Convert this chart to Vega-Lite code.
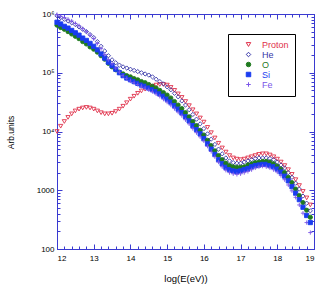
{
  "$schema": "https://vega.github.io/schema/vega-lite/v6.json",
  "width": 257,
  "height": 235,
  "autosize": {"type": "none"},
  "padding": {"left": 57, "top": 14, "right": 13, "bottom": 37},
  "background": "white",
  "config": {
    "view": {"stroke": "#3a3ad0", "strokeWidth": 1},
    "font": "Liberation Sans",
    "axis": {"grid": false, "domainColor": "#3a3ad0", "tickColor": "#3a3ad0", "labelColor": "black", "labelFontSize": 8, "titleFontWeight": "normal", "titleColor": "black", "labelFont": "Liberation Sans", "titleFont": "Liberation Sans"},
    "legend": {"symbolSize": 20, "symbolStrokeWidth": 1, "labelFontSize": 9, "labelFont": "Liberation Sans", "rowPadding": -3, "padding": 6, "strokeColor": "black", "fillColor": "white", "symbolOffset": 10, "labelOffset": 9}
  },
  "datasets": {
    "spectra": [
      {"log_E": 12.0, "Proton": 4.00, "He": 5.97, "O": 5.81, "Si": 5.86, "Fe": 5.99},
      {"log_E": 12.1, "Proton": 4.09, "He": 5.94, "O": 5.77, "Si": 5.83, "Fe": 5.96},
      {"log_E": 12.2, "Proton": 4.17, "He": 5.91, "O": 5.74, "Si": 5.79, "Fe": 5.94},
      {"log_E": 12.3, "Proton": 4.24, "He": 5.88, "O": 5.70, "Si": 5.76, "Fe": 5.91},
      {"log_E": 12.4, "Proton": 4.30, "He": 5.85, "O": 5.66, "Si": 5.72, "Fe": 5.88},
      {"log_E": 12.5, "Proton": 4.35, "He": 5.82, "O": 5.62, "Si": 5.68, "Fe": 5.84},
      {"log_E": 12.6, "Proton": 4.38, "He": 5.78, "O": 5.58, "Si": 5.64, "Fe": 5.80},
      {"log_E": 12.7, "Proton": 4.40, "He": 5.74, "O": 5.53, "Si": 5.59, "Fe": 5.75},
      {"log_E": 12.8, "Proton": 4.41, "He": 5.70, "O": 5.49, "Si": 5.55, "Fe": 5.70},
      {"log_E": 12.9, "Proton": 4.40, "He": 5.65, "O": 5.44, "Si": 5.50, "Fe": 5.64},
      {"log_E": 13.0, "Proton": 4.38, "He": 5.60, "O": 5.40, "Si": 5.45, "Fe": 5.58},
      {"log_E": 13.1, "Proton": 4.35, "He": 5.53, "O": 5.35, "Si": 5.39, "Fe": 5.50},
      {"log_E": 13.2, "Proton": 4.32, "He": 5.45, "O": 5.29, "Si": 5.32, "Fe": 5.41},
      {"log_E": 13.3, "Proton": 4.30, "He": 5.37, "O": 5.23, "Si": 5.25, "Fe": 5.31},
      {"log_E": 13.4, "Proton": 4.30, "He": 5.29, "O": 5.16, "Si": 5.18, "Fe": 5.22},
      {"log_E": 13.5, "Proton": 4.31, "He": 5.22, "O": 5.10, "Si": 5.12, "Fe": 5.15},
      {"log_E": 13.6, "Proton": 4.34, "He": 5.17, "O": 5.05, "Si": 5.06, "Fe": 5.08},
      {"log_E": 13.7, "Proton": 4.38, "He": 5.13, "O": 5.01, "Si": 5.00, "Fe": 5.01},
      {"log_E": 13.8, "Proton": 4.43, "He": 5.10, "O": 4.98, "Si": 4.95, "Fe": 4.95},
      {"log_E": 13.9, "Proton": 4.49, "He": 5.08, "O": 4.95, "Si": 4.91, "Fe": 4.90},
      {"log_E": 14.0, "Proton": 4.55, "He": 5.06, "O": 4.93, "Si": 4.88, "Fe": 4.86},
      {"log_E": 14.1, "Proton": 4.60, "He": 5.04, "O": 4.90, "Si": 4.85, "Fe": 4.83},
      {"log_E": 14.2, "Proton": 4.65, "He": 5.02, "O": 4.88, "Si": 4.82, "Fe": 4.80},
      {"log_E": 14.3, "Proton": 4.69, "He": 5.00, "O": 4.85, "Si": 4.79, "Fe": 4.77},
      {"log_E": 14.4, "Proton": 4.72, "He": 4.98, "O": 4.83, "Si": 4.77, "Fe": 4.74},
      {"log_E": 14.5, "Proton": 4.75, "He": 4.96, "O": 4.80, "Si": 4.74, "Fe": 4.71},
      {"log_E": 14.6, "Proton": 4.77, "He": 4.93, "O": 4.77, "Si": 4.71, "Fe": 4.68},
      {"log_E": 14.7, "Proton": 4.79, "He": 4.89, "O": 4.74, "Si": 4.68, "Fe": 4.64},
      {"log_E": 14.8, "Proton": 4.80, "He": 4.85, "O": 4.70, "Si": 4.64, "Fe": 4.60},
      {"log_E": 14.9, "Proton": 4.80, "He": 4.81, "O": 4.66, "Si": 4.60, "Fe": 4.55},
      {"log_E": 15.0, "Proton": 4.79, "He": 4.76, "O": 4.62, "Si": 4.55, "Fe": 4.50},
      {"log_E": 15.1, "Proton": 4.75, "He": 4.71, "O": 4.57, "Si": 4.50, "Fe": 4.45},
      {"log_E": 15.2, "Proton": 4.70, "He": 4.65, "O": 4.51, "Si": 4.44, "Fe": 4.39},
      {"log_E": 15.3, "Proton": 4.64, "He": 4.59, "O": 4.45, "Si": 4.38, "Fe": 4.33},
      {"log_E": 15.4, "Proton": 4.58, "He": 4.52, "O": 4.39, "Si": 4.32, "Fe": 4.27},
      {"log_E": 15.5, "Proton": 4.51, "He": 4.45, "O": 4.32, "Si": 4.25, "Fe": 4.20},
      {"log_E": 15.6, "Proton": 4.44, "He": 4.37, "O": 4.25, "Si": 4.18, "Fe": 4.13},
      {"log_E": 15.7, "Proton": 4.37, "He": 4.29, "O": 4.17, "Si": 4.10, "Fe": 4.05},
      {"log_E": 15.8, "Proton": 4.30, "He": 4.21, "O": 4.10, "Si": 4.03, "Fe": 3.98},
      {"log_E": 15.9, "Proton": 4.23, "He": 4.13, "O": 4.02, "Si": 3.96, "Fe": 3.91},
      {"log_E": 16.0, "Proton": 4.16, "He": 4.05, "O": 3.94, "Si": 3.88, "Fe": 3.84},
      {"log_E": 16.1, "Proton": 4.07, "He": 3.96, "O": 3.85, "Si": 3.79, "Fe": 3.75},
      {"log_E": 16.2, "Proton": 3.98, "He": 3.87, "O": 3.76, "Si": 3.70, "Fe": 3.66},
      {"log_E": 16.3, "Proton": 3.89, "He": 3.78, "O": 3.67, "Si": 3.61, "Fe": 3.57},
      {"log_E": 16.4, "Proton": 3.80, "He": 3.70, "O": 3.59, "Si": 3.52, "Fe": 3.48},
      {"log_E": 16.5, "Proton": 3.72, "He": 3.62, "O": 3.52, "Si": 3.45, "Fe": 3.40},
      {"log_E": 16.6, "Proton": 3.65, "He": 3.55, "O": 3.46, "Si": 3.39, "Fe": 3.34},
      {"log_E": 16.7, "Proton": 3.59, "He": 3.50, "O": 3.42, "Si": 3.35, "Fe": 3.30},
      {"log_E": 16.8, "Proton": 3.55, "He": 3.47, "O": 3.40, "Si": 3.33, "Fe": 3.28},
      {"log_E": 16.9, "Proton": 3.53, "He": 3.46, "O": 3.39, "Si": 3.32, "Fe": 3.27},
      {"log_E": 17.0, "Proton": 3.52, "He": 3.46, "O": 3.39, "Si": 3.33, "Fe": 3.28},
      {"log_E": 17.1, "Proton": 3.53, "He": 3.48, "O": 3.40, "Si": 3.35, "Fe": 3.30},
      {"log_E": 17.2, "Proton": 3.55, "He": 3.50, "O": 3.43, "Si": 3.37, "Fe": 3.32},
      {"log_E": 17.3, "Proton": 3.57, "He": 3.52, "O": 3.45, "Si": 3.40, "Fe": 3.35},
      {"log_E": 17.4, "Proton": 3.59, "He": 3.54, "O": 3.47, "Si": 3.42, "Fe": 3.38},
      {"log_E": 17.5, "Proton": 3.61, "He": 3.55, "O": 3.48, "Si": 3.43, "Fe": 3.40},
      {"log_E": 17.6, "Proton": 3.62, "He": 3.55, "O": 3.49, "Si": 3.44, "Fe": 3.41},
      {"log_E": 17.7, "Proton": 3.62, "He": 3.55, "O": 3.49, "Si": 3.44, "Fe": 3.40},
      {"log_E": 17.8, "Proton": 3.60, "He": 3.54, "O": 3.48, "Si": 3.42, "Fe": 3.38},
      {"log_E": 17.9, "Proton": 3.57, "He": 3.52, "O": 3.45, "Si": 3.40, "Fe": 3.35},
      {"log_E": 18.0, "Proton": 3.53, "He": 3.48, "O": 3.41, "Si": 3.36, "Fe": 3.31},
      {"log_E": 18.1, "Proton": 3.48, "He": 3.43, "O": 3.36, "Si": 3.31, "Fe": 3.25},
      {"log_E": 18.2, "Proton": 3.42, "He": 3.38, "O": 3.30, "Si": 3.24, "Fe": 3.18},
      {"log_E": 18.3, "Proton": 3.35, "He": 3.30, "O": 3.22, "Si": 3.16, "Fe": 3.09},
      {"log_E": 18.4, "Proton": 3.27, "He": 3.22, "O": 3.13, "Si": 3.06, "Fe": 2.99},
      {"log_E": 18.5, "Proton": 3.18, "He": 3.12, "O": 3.02, "Si": 2.95, "Fe": 2.88},
      {"log_E": 18.6, "Proton": 3.08, "He": 3.02, "O": 2.91, "Si": 2.84, "Fe": 2.75},
      {"log_E": 18.7, "Proton": 2.98, "He": 2.90, "O": 2.79, "Si": 2.71, "Fe": 2.61},
      {"log_E": 18.8, "Proton": 2.87, "He": 2.78, "O": 2.66, "Si": 2.57, "Fe": 2.45},
      {"log_E": 18.9, "Proton": 2.75, "He": 2.65, "O": 2.54, "Si": 2.45, "Fe": 2.28}
    ]
  },
  "data": {"name": "spectra"},
  "transform": [{"fold": ["Proton", "He", "O", "Si", "Fe"], "as": ["species", "log_I"]}],
  "layer": [
    {
      "mark": {"type": "point", "opacity": 0},
      "encoding": {
        "x": {"field": "log_E", "type": "quantitative", "scale": {"domain": [12, 19], "nice": false, "zero": false},
          "axis": {"orient": "top", "labels": false, "title": null, "values": [12,12.2,12.4,12.6,12.8,13,13.2,13.4,13.6,13.8,14,14.2,14.4,14.6,14.8,15,15.2,15.4,15.6,15.8,16,16.2,16.4,16.6,16.8,17,17.2,17.4,17.6,17.8,18,18.2,18.4,18.6,18.8,19],
            "tickSize": {"condition": {"test": "abs(datum.value - round(datum.value)) < 0.01", "value": -5}, "value": -3}}},
        "y": {"field": "log_I", "type": "quantitative", "scale": {"domain": [2, 6], "nice": false, "zero": false},
          "axis": {"orient": "right", "labels": false, "title": null, "values": [2,2.301,2.477,2.602,2.699,2.778,2.845,2.903,2.954,3,3.301,3.477,3.602,3.699,3.778,3.845,3.903,3.954,4,4.301,4.477,4.602,4.699,4.778,4.845,4.903,4.954,5,5.301,5.477,5.602,5.699,5.778,5.845,5.903,5.954,6],
            "tickSize": {"condition": {"test": "abs(datum.value - round(datum.value)) < 0.01", "value": -5}, "value": -3}}}
      }
    },
    {
      "mark": {"type": "point", "strokeWidth": 0.9, "opacity": 1},
      "encoding": {
        "x": {"field": "log_E", "type": "quantitative",
          "axis": {"orient": "bottom", "title": "log(E(eV))", "titleFontSize": 9.5, "titlePadding": 9, "labelPadding": 10, "labelOverlap": false,
            "values": [12,12.2,12.4,12.6,12.8,13,13.2,13.4,13.6,13.8,14,14.2,14.4,14.6,14.8,15,15.2,15.4,15.6,15.8,16,16.2,16.4,16.6,16.8,17,17.2,17.4,17.6,17.8,18,18.2,18.4,18.6,18.8,19],
            "labelExpr": "abs(datum.value - round(datum.value)) < 0.01 ? format(datum.value, 'd') : ''",
            "tickSize": {"condition": {"test": "abs(datum.value - round(datum.value)) < 0.01", "value": -5}, "value": -3}}},
        "y": {"field": "log_I", "type": "quantitative",
          "axis": {"orient": "left", "title": "Arb.units", "titleFontSize": 8.5, "titleX": -47, "titleY": 118, "titleAngle": -90, "titleAlign": "center", "titleBaseline": "middle", "labelPadding": 8, "labelOverlap": false,
            "values": [2,2.301,2.477,2.602,2.699,2.778,2.845,2.903,2.954,3,3.301,3.477,3.602,3.699,3.778,3.845,3.903,3.954,4,4.301,4.477,4.602,4.699,4.778,4.845,4.903,4.954,5,5.301,5.477,5.602,5.699,5.778,5.845,5.903,5.954,6],
            "labelExpr": "datum.value == 2 ? '100' : datum.value == 3 ? '1000' : datum.value == 4 ? '10⁴' : datum.value == 5 ? '10⁵' : datum.value == 6 ? '10⁶' : ''",
            "tickSize": {"condition": {"test": "abs(datum.value - round(datum.value)) < 0.01", "value": -5}, "value": -3}}},
        "shape": {"field": "species", "type": "nominal",
          "scale": {"domain": ["Proton", "He", "O", "Si", "Fe"], "range": ["triangle-down", "diamond", "circle", "square", "M-1,0L1,0M0,-1L0,1"]},
          "legend": {"title": null, "orient": "none", "legendX": 171, "legendY": 20,
            "labelColor": {"expr": "scale('stroke', datum.value)"}}},
        "stroke": {"field": "species", "type": "nominal",
          "scale": {"domain": ["Proton", "He", "O", "Si", "Fe"], "range": ["#e0304a", "#3636a8", "#1f7a1f", "#1a3cf0", "#7a55e8"]},
          "legend": {"title": null, "orient": "none", "legendX": 171, "legendY": 20,
            "labelColor": {"expr": "scale('stroke', datum.value)"}}},
        "fill": {"field": "species", "type": "nominal",
          "scale": {"domain": ["Proton", "He", "O", "Si", "Fe"], "range": ["transparent", "transparent", "#1f7a1f", "#1a3cf0", "transparent"]},
          "legend": {"title": null, "orient": "none", "legendX": 171, "legendY": 20,
            "labelColor": {"expr": "scale('stroke', datum.value)"}}},
        "size": {"value": 18}
      }
    }
  ],
  "resolve": {"axis": {"x": "independent", "y": "independent"}}
}
